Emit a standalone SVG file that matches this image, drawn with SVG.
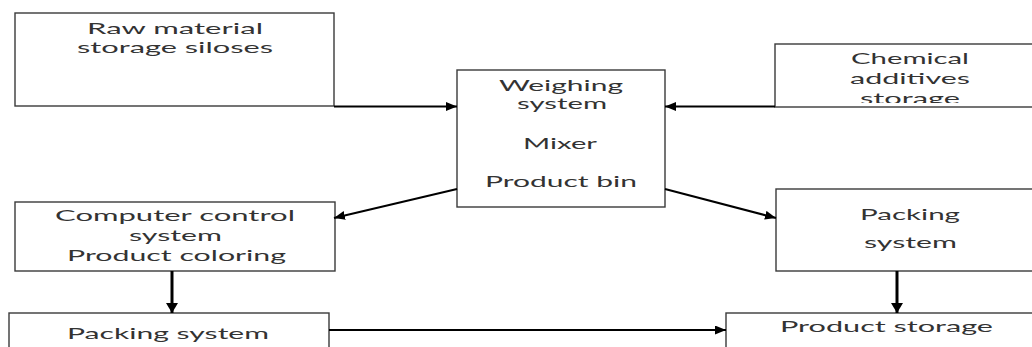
<svg xmlns="http://www.w3.org/2000/svg" width="1032" height="347" viewBox="0 0 1032 347">
<style>
.box{fill:#fff;stroke:#3a3a3a;stroke-width:1.4}
.t{font-family:Lato,"Open Sans","Liberation Sans",sans-serif;font-size:16px;fill:#333}
.c{fill:none;stroke:#000;stroke-width:2}
.cd{fill:none;stroke:#000;stroke-width:3}
</style>
<defs>
<marker id="ah" markerUnits="userSpaceOnUse" markerWidth="12" markerHeight="10" refX="11" refY="4.5" orient="auto"><path d="M0,0 L11,4.5 L0,9 Z" fill="#000"/></marker>
<marker id="ahd" markerUnits="userSpaceOnUse" markerWidth="12" markerHeight="12" refX="10" refY="6" orient="auto"><path d="M0,0 L10,6 L0,12 Z" fill="#000"/></marker>
<clipPath id="chemclip"><rect x="775" y="44" width="260" height="59"/></clipPath>
</defs>
<g id="raw">
<rect class="box" x="15" y="13" width="319" height="93"/>
<text class="t" x="87" y="34" textLength="176" lengthAdjust="spacingAndGlyphs">Raw material</text>
<text class="t" x="77" y="53" textLength="196" lengthAdjust="spacingAndGlyphs">storage siloses</text>
</g>
<g id="weighing">
<rect class="box" x="457" y="70" width="208" height="137"/>
<text class="t" x="499" y="91" textLength="124" lengthAdjust="spacingAndGlyphs">Weighing</text>
<text class="t" x="517" y="109" textLength="90" lengthAdjust="spacingAndGlyphs">system</text>
<text class="t" x="523" y="149" textLength="74" lengthAdjust="spacingAndGlyphs">Mixer</text>
<text class="t" x="485" y="187" textLength="152" lengthAdjust="spacingAndGlyphs">Product bin</text>
</g>
<g id="chemical">
<rect class="box" x="775" y="44" width="270" height="63"/>
<g clip-path="url(#chemclip)">
<text class="t" x="851" y="64" textLength="118" lengthAdjust="spacingAndGlyphs">Chemical</text>
<text class="t" x="850" y="84" textLength="120" lengthAdjust="spacingAndGlyphs">additives</text>
<text class="t" x="860" y="104" textLength="100" lengthAdjust="spacingAndGlyphs">storage</text>
</g>
</g>
<g id="computer">
<rect class="box" x="15" y="202" width="320" height="69"/>
<text class="t" x="55" y="221" textLength="240" lengthAdjust="spacingAndGlyphs">Computer control</text>
<text class="t" x="129" y="241" textLength="93" lengthAdjust="spacingAndGlyphs">system</text>
<text class="t" x="67" y="261" textLength="219" lengthAdjust="spacingAndGlyphs">Product coloring</text>
</g>
<g id="packing-left">
<rect class="box" x="9" y="313" width="320" height="50"/>
<text class="t" x="67" y="339" textLength="202" lengthAdjust="spacingAndGlyphs">Packing system</text>
</g>
<g id="packing-right">
<rect class="box" x="776" y="189" width="270" height="82"/>
<text class="t" x="860" y="220" textLength="100" lengthAdjust="spacingAndGlyphs">Packing</text>
<text class="t" x="864" y="248" textLength="93" lengthAdjust="spacingAndGlyphs">system</text>
</g>
<g id="product-storage">
<rect class="box" x="726" y="313" width="320" height="50"/>
<text class="t" x="780" y="332" textLength="213" lengthAdjust="spacingAndGlyphs">Product storage</text>
</g>
<g id="connectors">
<path class="c" d="M334,106.5 H457" marker-end="url(#ah)"/>
<path class="c" d="M775,106.5 H665" marker-end="url(#ah)"/>
<path class="c" d="M457,189 L334,218" marker-end="url(#ah)"/>
<path class="c" d="M665,189 L776,218" marker-end="url(#ah)"/>
<path class="cd" d="M172,271 V313" marker-end="url(#ahd)"/>
<path class="cd" d="M897,271 V313" marker-end="url(#ahd)"/>
<path class="c" d="M329,330 H726" marker-end="url(#ah)"/>
</g>
</svg>
